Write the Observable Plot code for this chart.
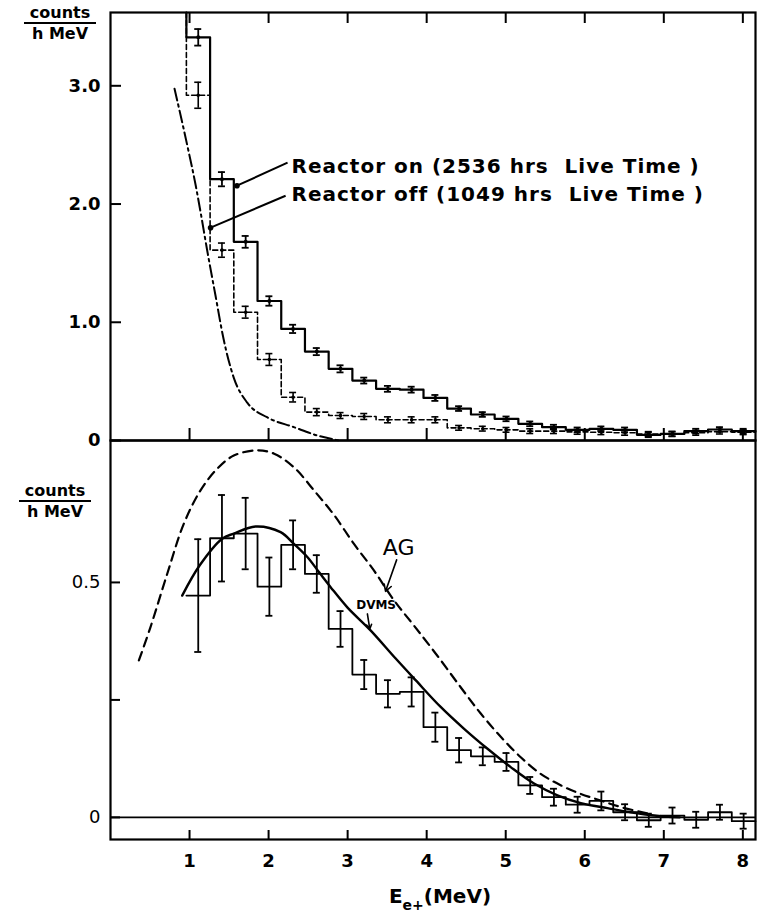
<!DOCTYPE html>
<html>
<head>
<meta charset="utf-8">
<script src="https://cdn.jsdelivr.net/npm/d3@7"></script>
<script src="https://cdn.jsdelivr.net/npm/@observablehq/plot@0.6"></script>
<style>
  body { margin: 0; background: #fff; }
  #wrap { position: relative; width: 760px; height: 914px; font-family: "DejaVu Sans", sans-serif; color: #000; background: #fff; }
  #top, #bot { position: absolute; left: 0; }
  #top { top: 0; }
  #bot { top: 440px; }
  svg text { white-space: pre; }
  .frac { position: absolute; text-align: center; font-weight: bold; line-height: 1; }
  .frac .num { display: block; border-bottom: 2px solid #000; padding-bottom: 1px; }
  .frac .den { display: block; padding-top: 2px; }
  #xlabel { position: absolute; top: 884px; left: 0; width: 880px; text-align: center; font-size: 20px; font-weight: bold; }
  #xlabel sub { font-size: 14px; vertical-align: -7px; }
</style>
</head>
<body>
<div id="wrap">
  <div id="top"></div>
  <div id="bot"></div>
  <div class="frac" style="left:24px;top:5px;width:72px;font-size:16px;"><span class="num">counts</span><span class="den">h MeV</span></div>
  <div class="frac" style="left:19px;top:483px;width:72px;font-size:16px;"><span class="num">counts</span><span class="den">h MeV</span></div>
  <div id="xlabel">E<sub>e+</sub>(MeV)</div>
</div>
<script>
// ---------------- data ----------------
const binEdges = [0.96,1.26,1.56,1.86,2.16,2.46,2.76,3.06,3.36,3.66,3.96,4.26,4.56,4.86,5.16,5.46,5.76,6.06,6.36,6.66,6.96,7.26,7.56,7.86,8.16];

// top panel: reactor on / reactor off (counts / h MeV)
const onCounts  = [3.41,2.21,1.68,1.18,0.944,0.752,0.606,0.507,0.437,0.43,0.36,0.27,0.22,0.183,0.141,0.113,0.09,0.099,0.09,0.048,0.056,0.079,0.093,0.079];
const onErr     = [0.07,0.06,0.05,0.04,0.035,0.03,0.03,0.025,0.025,0.025,0.025,0.02,0.02,0.02,0.02,0.02,0.02,0.02,0.02,0.02,0.02,0.02,0.02,0.02];
const offCounts = [2.92,1.61,1.085,0.685,0.366,0.24,0.211,0.203,0.175,0.175,0.175,0.107,0.1,0.09,0.079,0.079,0.073,0.07,0.065,0.055,0.055,0.065,0.075,0.07];
const offErr    = [0.11,0.06,0.05,0.05,0.04,0.03,0.025,0.025,0.025,0.025,0.025,0.02,0.02,0.02,0.02,0.02,0.02,0.02,0.02,0.02,0.02,0.02,0.02,0.02];

// top panel: dash-dot background curve
const bgE = [0.81,0.97,1.08,1.14,1.22,1.33,1.43,1.56,1.73,1.98,2.32,2.62,2.89];
const bgY = [2.975,2.5,2.15,1.93,1.62,1.22,0.86,0.53,0.32,0.197,0.113,0.042,0];

// bottom panel: difference spectrum
const diffCounts = [0.472,0.594,0.604,0.491,0.58,0.518,0.401,0.304,0.263,0.267,0.192,0.143,0.13,0.118,0.068,0.043,0.027,0.035,0.011,-0.006,0.004,-0.005,0.011,-0.008];
const diffErr    = [0.12,0.092,0.076,0.062,0.052,0.04,0.038,0.031,0.029,0.031,0.031,0.026,0.019,0.019,0.018,0.018,0.017,0.02,0.017,0.014,0.017,0.017,0.016,0.016];

// bottom panel: DVMS (solid) and AG (dashed) predictions
const dvmsE = [0.907,1.127,1.413,1.561,1.835,2.152,2.32,2.49,2.637,2.785,2.996,3.29,3.608,3.86,4.177,4.47,4.77,5.063,5.358,5.654,5.95,6.287,6.58,6.88,7.2];
const dvmsY = [0.472,0.536,0.593,0.604,0.619,0.607,0.582,0.554,0.522,0.49,0.447,0.398,0.338,0.292,0.235,0.189,0.146,0.107,0.072,0.047,0.0305,0.0198,0.011,0.004,0];
const agE = [0.359,0.506,0.717,0.928,1.139,1.35,1.56,1.857,2.07,2.32,2.574,2.83,3.08,3.33,3.586,3.84,4.135,4.43,4.684,4.94,5.19,5.44,5.70,5.95,6.20,6.456,6.8];
const agY = [0.334,0.405,0.518,0.625,0.696,0.742,0.77,0.781,0.774,0.745,0.696,0.643,0.582,0.526,0.462,0.408,0.344,0.277,0.221,0.171,0.128,0.093,0.068,0.05,0.036,0.022,0.008];

// axes
const xTicks = [1,2,3,4,5,6,7,8];
const xTickLabels = ["1","2","3","4","5","6","7","8"];
const yTicksTop = [0,1,2,3];
const yTickLabelsTop = ["0","1.0","2.0","3.0"];
const yTicksBot = [0,0.25,0.5];
const yTickLabelsBot = ["0","","0.5"];

// annotations (data coordinates)
const topLabels = [
  {text: "Reactor on (2536 hrs  Live Time )", x: 2.29, y: 2.316},
  {text: "Reactor off (1049 hrs  Live Time )", x: 2.29, y: 2.08}
];
const topLeaders = [
  {x1: 2.24, y1: 2.35, x2: 1.60, y2: 2.155},
  {x1: 2.215, y1: 2.07, x2: 1.266, y2: 1.80}
];
const agLabel = [{text: "AG", x: 3.645, y: 0.573}];
const dvmsLabel = [{text: "DVMS", x: 3.36, y: 0.451}];
const botArrows = [
  {x1: 3.62, y1: 0.548, x2: 3.48, y2: 0.481},
  {x1: 3.25, y1: 0.433, x2: 3.28, y2: 0.401}
];

// ---------------- layout ----------------
const W = 760;
const xDomain = [0, 8.16];
const mLeft = 110, mRight = 5;
const topH = 440, topMT = 12;
const topDomain = [0, 3.62];
const botH = 474, botMB = 75;
const botDomain = [-0.047, 0.802];
const pxPerMeV = (W - mLeft - mRight) / (xDomain[1] - xDomain[0]);
const pxPerTop = (topH - topMT) / (topDomain[1] - topDomain[0]);
const pxPerBot = (botH - botMB) / (botDomain[1] - botDomain[0]);
const capHalf = 3.5 / pxPerMeV;
const fontFamily = '"DejaVu Sans", sans-serif';

function stepPoints(vals, startTop) {
  const pts = [];
  if (startTop != null) pts.push({x: binEdges[0], y: startTop});
  vals.forEach((v, i) => { pts.push({x: binEdges[i], y: v}); pts.push({x: binEdges[i + 1], y: v}); });
  return pts;
}
const centers = binEdges.slice(0, -1).map((e, i) => (e + binEdges[i + 1]) / 2);
function bars(vals, errs) {
  return vals.map((v, i) => ({x: centers[i], y: v, lo: v - errs[i], hi: v + errs[i]}));
}
function errMarks(b, sw) {
  return [
    Plot.ruleX(b, {x: "x", y1: "lo", y2: "hi", strokeWidth: sw}),
    Plot.ruleY(b, {y: "lo", x1: d => d.x - capHalf, x2: d => d.x + capHalf, strokeWidth: sw}),
    Plot.ruleY(b, {y: "hi", x1: d => d.x - capHalf, x2: d => d.x + capHalf, strokeWidth: sw})
  ];
}

// ---------------- top panel ----------------
const onBars = bars(onCounts, onErr);
const offBars = bars(offCounts, offErr);
const bgCurve = bgE.map((e, i) => ({x: e, y: bgY[i]}));
const topTickLen = 11;

const topPlot = Plot.plot({
  width: W, height: topH,
  marginLeft: mLeft, marginRight: mRight, marginTop: topMT, marginBottom: 0,
  x: {domain: xDomain, axis: null},
  y: {domain: topDomain, axis: null},
  style: {fontFamily, background: "#fff", overflow: "visible"},
  marks: [
    Plot.line(bgCurve, {x: "x", y: "y", curve: "monotone-x", strokeWidth: 2, strokeDasharray: "12,4,2.5,4"}),
    Plot.line(stepPoints(offCounts, topDomain[1]), {x: "x", y: "y", strokeWidth: 1.6, strokeDasharray: "5,3"}),
    ...errMarks(offBars, 1.6),
    Plot.dot(offBars, {x: "x", y: "y", r: 1.8, fill: "#000"}),
    Plot.line(stepPoints(onCounts, topDomain[1]), {x: "x", y: "y", strokeWidth: 2.2}),
    ...errMarks(onBars, 1.8),
    Plot.dot(onBars, {x: "x", y: "y", r: 2, fill: "#000"}),
    // leaders
    Plot.link(topLeaders, {x1: "x1", y1: "y1", x2: "x2", y2: "y2", strokeWidth: 2}),
    Plot.dot(topLeaders, {x: "x2", y: "y2", r: 2.8, fill: "#000"}),
    Plot.text(topLabels, {x: "x", y: "y", text: "text", textAnchor: "start", fontSize: 20, fontWeight: "bold"}),
    // ticks
    Plot.ruleY(yTicksTop, {y: d => d, x1: 0, x2: topTickLen / pxPerMeV, strokeWidth: 2}),
    Plot.ruleX(xTicks, {x: d => d, y1: topDomain[1], y2: topDomain[1] - topTickLen / pxPerTop, strokeWidth: 2}),
    Plot.ruleX(xTicks, {x: d => d, y1: 0, y2: 12 / pxPerTop, strokeWidth: 2}),
    Plot.text(yTicksTop, {x: 0, y: d => d, text: (d, i) => yTickLabelsTop[i], dx: -10, textAnchor: "end", fontSize: 18, fontWeight: "bold"}),
    Plot.frame({strokeWidth: 2.2})
  ]
});
document.getElementById("top").appendChild(topPlot);
d3.select(topPlot).selectAll("text")
  .filter(function () { return this.textContent.startsWith("Reactor"); })
  .style("letter-spacing", "1px");

// ---------------- bottom panel ----------------
const diffBars = bars(diffCounts, diffErr);
const dvmsCurve = dvmsE.map((e, i) => ({x: e, y: dvmsY[i]}));
const agCurve = agE.map((e, i) => ({x: e, y: agY[i]}));

const botPlot = Plot.plot({
  width: W, height: botH,
  marginLeft: mLeft, marginRight: mRight, marginTop: 0, marginBottom: botMB,
  x: {domain: xDomain, axis: null},
  y: {domain: botDomain, axis: null},
  style: {fontFamily, background: "transparent", overflow: "visible"},
  marks: [
    Plot.ruleY([0], {strokeWidth: 1.6}),
    Plot.line(agCurve, {x: "x", y: "y", curve: "catmull-rom", strokeWidth: 2.2, strokeDasharray: "9,6"}),
    Plot.line(dvmsCurve, {x: "x", y: "y", curve: "catmull-rom", strokeWidth: 2.4}),
    Plot.line(stepPoints(diffCounts), {x: "x", y: "y", strokeWidth: 1.8}),
    ...errMarks(diffBars, 1.8),
    Plot.arrow(botArrows, {x1: "x1", y1: "y1", x2: "x2", y2: "y2", strokeWidth: 1.6, headLength: 7}),
    Plot.text(agLabel, {x: "x", y: "y", text: "text", fontSize: 22}),
    Plot.text(dvmsLabel, {x: "x", y: "y", text: "text", fontSize: 12, fontWeight: "bold"}),
    // ticks
    Plot.ruleY(yTicksBot, {y: d => d, x1: 0, x2: 10 / pxPerMeV, strokeWidth: 2}),
    Plot.ruleX(xTicks, {x: d => d, y1: botDomain[0], y2: botDomain[0] + 9 / pxPerBot, strokeWidth: 2}),
    Plot.text(yTicksBot, {x: 0, y: d => d, text: (d, i) => yTickLabelsBot[i], dx: -10, textAnchor: "end", fontSize: 18}),
    Plot.text(xTicks, {x: d => d, y: botDomain[0], text: (d, i) => xTickLabels[i], dy: 22, fontSize: 18, fontWeight: "bold"}),
    Plot.frame({strokeWidth: 2.2})
  ]
});
document.getElementById("bot").appendChild(botPlot);
</script>
</body>
</html>
